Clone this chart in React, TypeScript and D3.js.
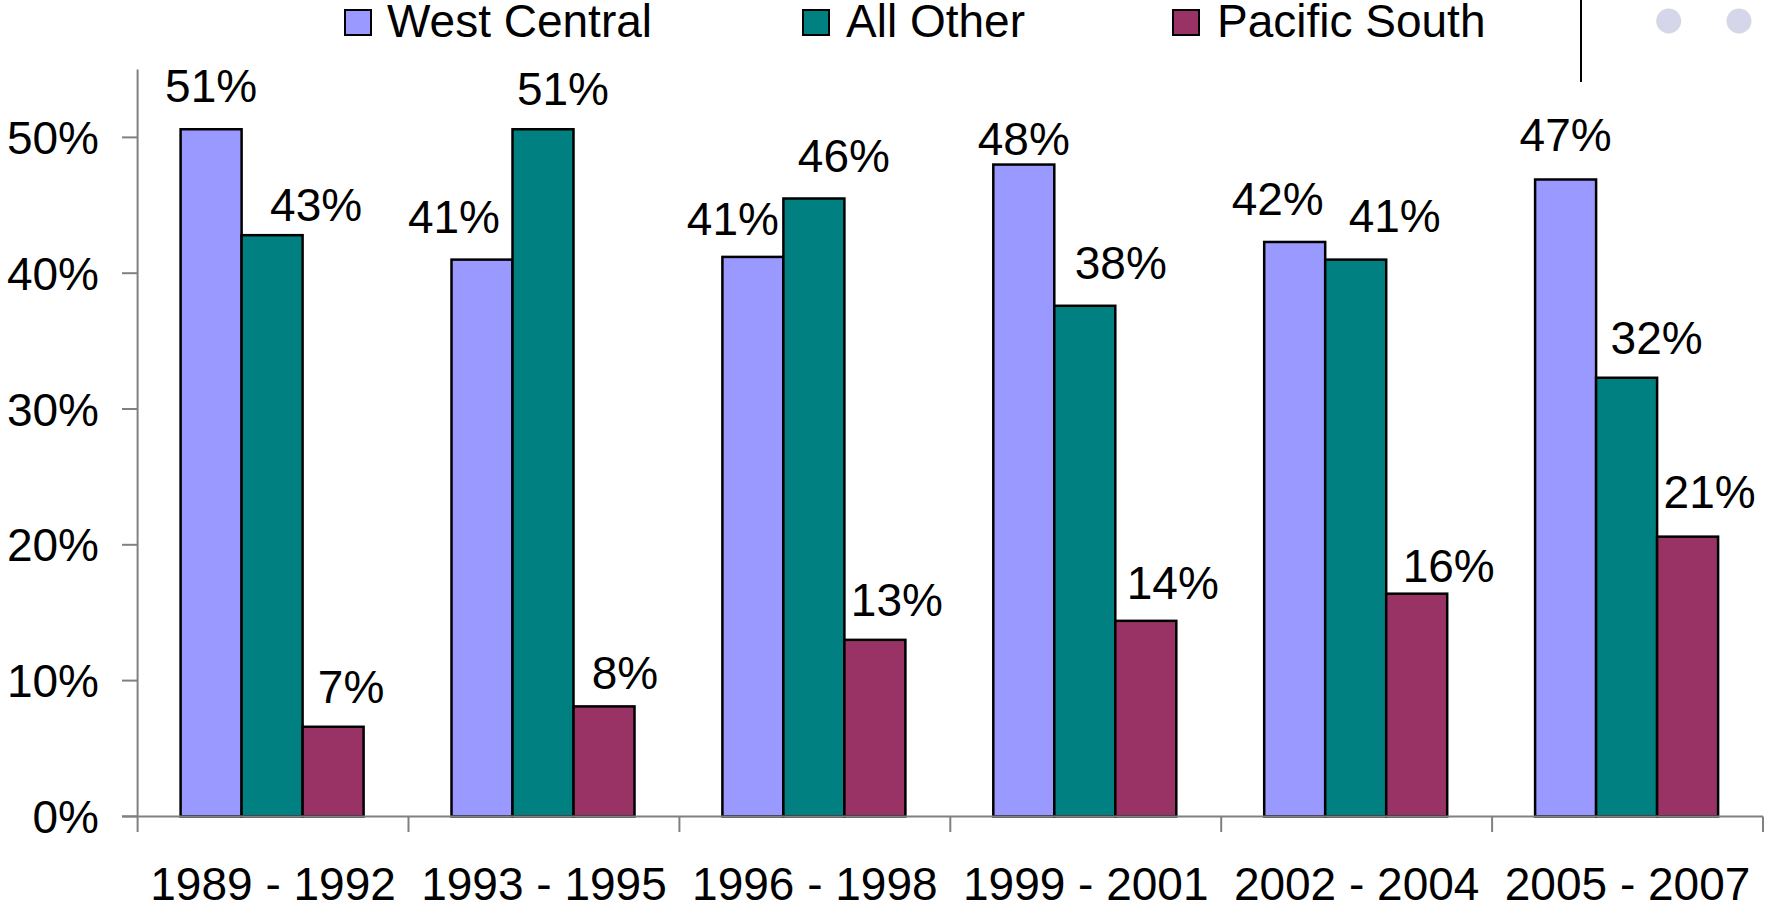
import React from "react";
import * as d3 from "d3";

const categories = ["1989 - 1992", "1993 - 1995", "1996 - 1998", "1999 - 2001", "2002 - 2004", "2005 - 2007"];
const seriesNames = ["West Central", "All Other", "Pacific South"];
const westCentral = [50.6, 41.0, 41.2, 48.0, 42.3, 46.9];
const allOther = [42.8, 50.6, 45.5, 37.6, 41.0, 32.3];
const pacificSouth = [6.6, 8.1, 13.0, 14.4, 16.4, 20.6];
const yTicks = [0, 10, 20, 30, 40, 50];
const colors = ["#9999FF", "#008080", "#993366"];

// manual label nudges (Excel labels were hand-placed)
const labelDx = [
  [0, -28, -20, 0, -17, 0],
  [44, 20, 30, 36, 39, 30],
  [18, 21, 22, 27, 32, 22],
];
const labelDy = [
  [27, 27, 22, 10, 27, 28],
  [14, 24, 27, 27, 28, 24],
  [24, 17, 24, 22, 12, 29],
];

const W = 1768;
const H = 908;
const FONT = "'Liberation Sans', Arial, Helvetica, sans-serif";
const FS = 46;

export default function App() {
  const values = [westCentral, allOther, pacificSouth];
  const axisX = 137.6;
  const axisRight = 1763;
  const y0 = 816.4;
  const y = d3.scaleLinear().domain([0, 55]).range([y0, 69.5]);
  const x0 = d3.scaleBand<string>().domain(categories).range([axisX, axisRight]).padding(0);
  const barW = 61;
  const groupOffset = 43;
  const x1 = d3
    .scaleBand<string>()
    .domain(seriesNames)
    .range([groupOffset, groupOffset + barW * 3])
    .padding(0);
  const fmt = (v: number) => `${Math.round(v)}%`;

  const legendItems = [
    { box: 345, text: 387 },
    { box: 803, text: 846 },
    { box: 1173, text: 1217 },
  ];

  return (
    <svg
      width={W}
      height={H}
      style={{ position: "absolute", left: 0, top: 0, background: "#fff" }}
      fontFamily={FONT}
    >
      <rect x={0} y={0} width={W} height={H} fill="#fff" />
      {/* legend */}
      {seriesNames.map((s, i) => (
        <g key={s}>
          <rect x={legendItems[i].box} y={10} width={26} height={25} fill={colors[i]} stroke="#000" strokeWidth={2} />
          <text x={legendItems[i].text} y={37} fontSize={FS} fill="#000">
            {s}
          </text>
        </g>
      ))}
      <line x1={1581} x2={1581} y1={0} y2={82} stroke="#000" strokeWidth={2} />
      <circle cx={1668.7} cy={21} r={12.5} fill="#d6d6ea" />
      <circle cx={1739} cy={21} r={12.5} fill="#d6d6ea" />

      {/* y axis */}
      <line x1={axisX} x2={axisX} y1={y(55)} y2={y0} stroke="#808080" strokeWidth={2} />
      {yTicks.map((t) => (
        <g key={t}>
          <line x1={122} x2={axisX} y1={y(t)} y2={y(t)} stroke="#808080" strokeWidth={2} />
          <text x={99} y={y(t)} dy="0.36em" textAnchor="end" fontSize={FS} fill="#000">
            {t}%
          </text>
        </g>
      ))}

      {/* bars */}
      {categories.map((c, ci) => (
        <g key={c} transform={`translate(${x0(c)},0)`}>
          {seriesNames.map((s, si) => {
            const v = values[si][ci];
            return (
              <rect
                key={s}
                x={x1(s)}
                y={y(v)}
                width={x1.bandwidth()}
                height={y0 - y(v)}
                fill={colors[si]}
                stroke="#000"
                strokeWidth={2.5}
              />
            );
          })}
        </g>
      ))}

      {/* x axis */}
      <line x1={122} x2={axisRight} y1={y0} y2={y0} stroke="#808080" strokeWidth={2} />
      {[...categories.map((c) => x0(c) as number), axisRight].map((tx, i) => (
        <line key={i} x1={tx} x2={tx} y1={y0} y2={832} stroke="#808080" strokeWidth={2} />
      ))}
      {categories.map((c) => (
        <text
          key={c}
          x={(x0(c) as number) + x0.bandwidth() / 2}
          y={900}
          textAnchor="middle"
          fontSize={FS}
          fill="#000"
        >
          {c}
        </text>
      ))}

      {/* data labels */}
      {categories.map((c, ci) =>
        seriesNames.map((s, si) => {
          const v = values[si][ci];
          const cx = (x0(c) as number) + (x1(s) as number) + x1.bandwidth() / 2 + labelDx[si][ci];
          return (
            <text
              key={`${c}-${s}`}
              x={cx}
              y={y(v) - labelDy[si][ci]}
              textAnchor="middle"
              fontSize={FS}
              fill="#000"
            >
              {fmt(v)}
            </text>
          );
        })
      )}
    </svg>
  );
}
